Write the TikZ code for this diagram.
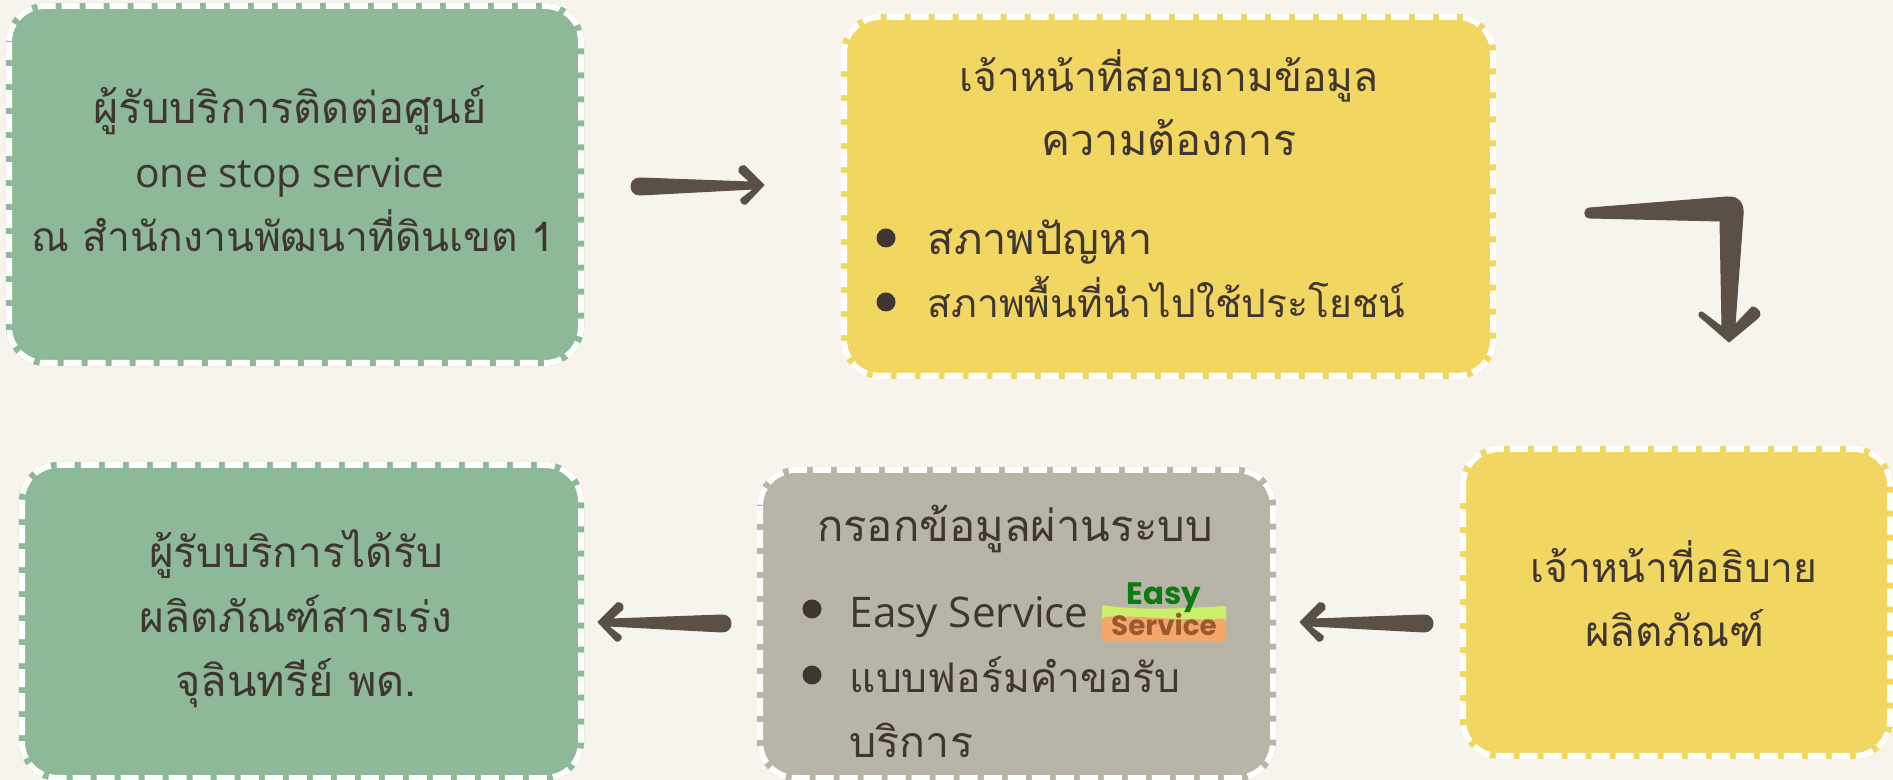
\documentclass[tikz,border=0pt]{standalone}
\usepackage{fontspec}
\setmainfont[Script=Thai]{Loma}
\newfontfamily\latinf{Open Sans}
\newfontfamily\logof{Poppins}
\definecolor{bgc}{HTML}{F7F4EE}
\definecolor{greenc}{HTML}{8DB998}
\definecolor{yellowc}{HTML}{F2D662}
\definecolor{greyc}{HTML}{B8B5A8}
\definecolor{inkc}{HTML}{3F3630}
\definecolor{arrowc}{HTML}{5A5045}
\definecolor{lgreen}{HTML}{CBEF6A}
\definecolor{lorange}{HTML}{F5A66B}
\definecolor{dgreen}{HTML}{0E7A12}
\definecolor{dbrown}{HTML}{9A5A2C}
\tikzset{
  x=0.01cm,y=-0.01cm,
  panel/.style={line width=0.06cm,rounded corners=0.36cm,anchor=north west,inner sep=0pt,outer sep=0pt},
  paneledge/.style={draw=white,line width=0.06cm,dash pattern=on 0.18cm off 0.06cm,rounded corners=0.36cm},
  label/.style={text=inkc,font=\fontsize{#1pt}{#1pt}\selectfont,inner sep=0pt,anchor=base},
  label/.default=11.6,
  leftlabel/.style={label=#1,anchor=base west},
  leftlabel/.default=11.6,
  latinlabel/.style={text=inkc,font=\latinf\fontsize{#1pt}{#1pt}\selectfont,inner sep=0pt,anchor=base},
  dot/.style={circle,fill=inkc,minimum size=0.19cm,inner sep=0pt,outer sep=0pt},
  arrowfill/.style={fill=arrowc,draw=arrowc,line width=0.01cm,line join=round},
}
\newcommand{\panelbox}[6]{% name, colour, x1,y1,x2,y2
  \pgfmathsetmacro{\pw}{(#5-#3)*0.01}\pgfmathsetmacro{\ph}{(#6-#4)*0.01}
  \node[panel,draw=#2,fill=#2,minimum width=\pw cm,minimum height=\ph cm] (#1) at (#3,#4) {};
  \draw[paneledge] (#1.north west) rectangle (#1.south east);
}
\newcommand{\straightarrow}[2]{% tip coordinate, xscale
  \begin{scope}[shift={(#1)},xscale=#2]
  \fill[arrowfill] (-124,-7) -- (-14,-3) -- (-25,-13) .. controls (-26,-18) and (-22,-20) .. (-19,-19) -- (0,0) -- (-18,19) .. controls (-21,20) and (-24,17) .. (-23,14) -- (-10,4) -- (-124,10) .. controls (-136,10) and (-136,-7) .. (-124,-7) -- cycle;
  \end{scope}
}
\begin{document}
\begin{tikzpicture}
\useasboundingbox (0,0) rectangle (1893,780);
\fill[bgc] (0,0) rectangle (1893,780);
\panelbox{a}{greenc}{9}{6}{581}{363}
\panelbox{b}{yellowc}{844}{17}{1493}{376}
\panelbox{c}{yellowc}{1463}{449}{1890}{756}
\panelbox{d}{greyc}{760}{470}{1273}{778}
\panelbox{e}{greenc}{22}{465}{581}{778}

\node[label=12.3] (a1) at (290,124) {ผู้รับบริการติดต่อศูนย์};
\node[latinlabel=11.6] (a2) at (290,188) {one stop service};
\node[label] (a3) at (293,252) {ณ สำนักงานพัฒนาที่ดินเขต 1};

\node[label] (b1) at (1169,92) {เจ้าหน้าที่สอบถามข้อมูล};
\node[label=12.3] (b2) at (1169,156) {ความต้องการ};
\node[dot] (b3) at (886,238) {};
\node[leftlabel=12.3] (b4) at (927,255) {สภาพปัญหา};
\node[dot] (b5) at (886,302) {};
\node[leftlabel=11.1] (b6) at (927,318) {สภาพพื้นที่นำไปใช้ประโยชน์};

\node[label] (c1) at (1674,583) {เจ้าหน้าที่อธิบาย};
\node[label=12] (c2) at (1675,647) {ผลิตภัณฑ์};

\node[label=12.4] (d1) at (1015,542) {กรอกข้อมูลผ่านระบบ};
\node[dot] (d2) at (812,609) {};
\node[latinlabel=12.0,anchor=base west] (d3) at (849,628) {Easy Service};
\node[dot] (d4) at (812,675) {};
\node[leftlabel] (d5) at (849,693) {แบบฟอร์มคำขอรับ};
\node[leftlabel=12.2] (d6) at (849,758) {บริการ};

\node[label=12] (e1) at (296,568) {ผู้รับบริการได้รับ};
\node[label=12.1] (e2) at (296,633) {ผลิตภัณฑ์สารเร่ง};
\node[label=12.3] (e3) at (296,697) {จุลินทรีย์ พด.};

% Easy Service logo
\fill[lgreen,rounded corners=0.02cm] (1102,605) .. controls (1140,611) and (1190,608) .. (1226,606) -- (1226,622) -- (1102,622) -- cycle;
\fill[lorange,rounded corners=0.04cm] (1102,617) .. controls (1140,615) and (1190,622) .. (1226,618) -- (1226,642) -- (1102,642) -- cycle;
\node[inner sep=0pt,anchor=base,text=dgreen,font=\logof\bfseries\fontsize{8.8pt}{8.8pt}\selectfont] (l1) at (1164,605) {Easy};
\node[inner sep=0pt,anchor=base,text=dbrown,font=\logof\bfseries\fontsize{7.9pt}{7.9pt}\selectfont] (l2) at (1164,636) {Service};

% hand-drawn arrows
\coordinate (tipab) at (764,185);
\coordinate (tipbc) at (1729,342);
\coordinate (tipcd) at (1300,622);
\coordinate (tipde) at (598,622);
\straightarrow{tipab}{1}
\straightarrow{tipcd}{-1}
\straightarrow{tipde}{-1}
\begin{scope}[shift={(tipbc)}]
\fill[arrowfill] (-139,-134) -- (-2,-145) .. controls (11,-146) and (15,-137) .. (14,-127) -- (6,-17) -- (23,-35) .. controls (31,-34) and (33,-27) .. (29,-24) -- (0,0) -- (-30,-26) .. controls (-30,-29) and (-29,-31) .. (-27,-30) -- (-7,-15) -- (-9,-121) -- (-139,-124) .. controls (-146,-124) and (-146,-134) .. (-139,-134) -- cycle;
\end{scope}
\end{tikzpicture}
\end{document}
